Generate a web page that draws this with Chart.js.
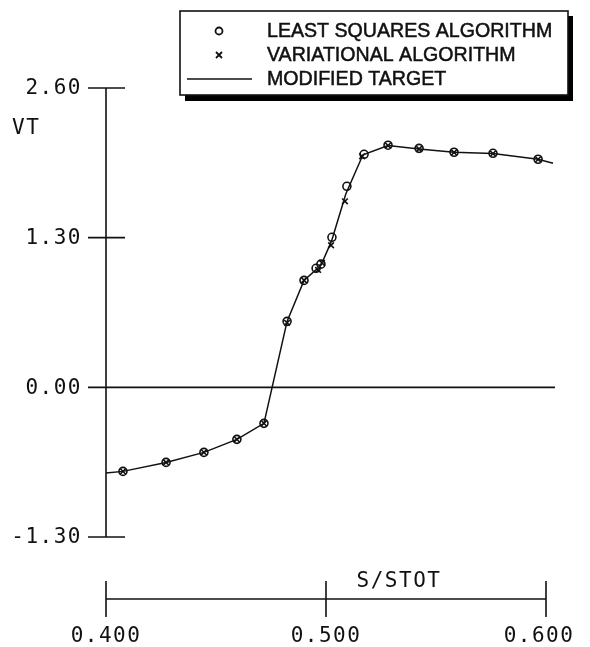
<html>
	<head>
		<script src="https://cdn.jsdelivr.net/npm/chart.js"></script>
		<style>
			body {
				margin: 0;
				background: #fff;
			}
			canvas {
				display: block;
			}
		</style>
	</head>
	<body>
		<canvas id="vtChart" width="590" height="647"></canvas>

		<script>
			// data
			const sLsq = [0.4077, 0.4273, 0.4445, 0.4595, 0.4718, 0.4823, 0.4900, 0.4955, 0.4977, 0.5027, 0.5095, 0.5173, 0.5282, 0.5423, 0.5582, 0.5759, 0.5964];
			const vtLsq = [-0.73, -0.652, -0.565, -0.452, -0.313, 0.573, 0.929, 1.034, 1.07, 1.303, 1.746, 2.024, 2.103, 2.076, 2.042, 2.033, 1.981];

			const sVar = [0.4077, 0.4273, 0.4445, 0.4595, 0.4718, 0.4823, 0.4900, 0.4964, 0.4982, 0.5023, 0.5086, 0.5164, 0.5282, 0.5423, 0.5582, 0.5759, 0.5964];
			const vtVar = [-0.73, -0.652, -0.565, -0.452, -0.313, 0.56, 0.93, 1.02, 1.08, 1.234, 1.616, 2.007, 2.10, 2.07, 2.04, 2.03, 1.98];

			const sTarget = [0.4, 0.4077, 0.4273, 0.4445, 0.4595, 0.4718, 0.4823, 0.4900, 0.4977, 0.5025, 0.5090, 0.5168, 0.5282, 0.5423, 0.5582, 0.5759, 0.5964, 0.6032];
			const vtTarget = [-0.745, -0.73, -0.652, -0.565, -0.452, -0.313, 0.573, 0.929, 1.06, 1.27, 1.68, 2.02, 2.10, 2.07, 2.042, 2.03, 1.981, 1.946];

			const yTicks = [2.6, 1.3, 0, -1.3];
			const yTickLabels = ['2.60', '1.30', '0.00', '-1.30'];
			const xTicks = [0.4, 0.5, 0.6];
			const xTickLabels = ['0.400', '0.500', '0.600'];
			const legendLabels = ['LEAST SQUARES ALGORITHM', 'VARIATIONAL ALGORITHM', 'MODIFIED TARGET'];

			const toPoints = (xs, ys) => xs.map((x, i) => ({ x: x, y: ys[i] }));

			const monoFont = '21px "DejaVu Sans Mono"';
			const ink = '#111';

			// plotter style axes, drawn with the chart's own scales
			const axesPlugin = {
				id: 'plotterAxes',
				beforeDatasetsDraw(chart) {
					const ctx = chart.ctx;
					const xs = chart.scales.x;
					const ys = chart.scales.y;
					const x0 = xs.getPixelForValue(0.4);
					ctx.save();
					ctx.strokeStyle = ink;
					ctx.lineWidth = 1.6;
					ctx.fillStyle = ink;
					ctx.font = monoFont;
					ctx.letterSpacing = '1.5px';

					// y axis
					ctx.beginPath();
					ctx.moveTo(x0, ys.getPixelForValue(2.6));
					ctx.lineTo(x0, ys.getPixelForValue(-1.3));
					ctx.stroke();

					ctx.textAlign = 'right';
					ctx.textBaseline = 'middle';
					yTicks.forEach((v, i) => {
						const py = ys.getPixelForValue(v);
						ctx.beginPath();
						ctx.moveTo(x0 - 18, py);
						ctx.lineTo(v === 0 ? xs.getPixelForValue(0.6041) : x0 + 19, py);
						ctx.stroke();
						ctx.fillText(yTickLabels[i], 82, py + 1);
					});

					ctx.textAlign = 'left';
					ctx.fillText('VT', 12, 129);

					// x axis, set apart below the plot
					const axY = 599;
					ctx.beginPath();
					ctx.moveTo(x0, axY);
					ctx.lineTo(xs.getPixelForValue(0.6), axY);
					ctx.stroke();
					ctx.textAlign = 'center';
					xTicks.forEach((v, i) => {
						const px = xs.getPixelForValue(v);
						ctx.beginPath();
						ctx.moveTo(px, axY - 18);
						ctx.lineTo(px, axY + 18);
						ctx.stroke();
						ctx.fillText(xTickLabels[i], i === 2 ? px - 7 : px, 637);
					});
					ctx.fillText('S/STOT', 399, 582);
					ctx.restore();
				},
				afterDraw(chart) {
					const ctx = chart.ctx;
					ctx.save();
					// legend box with drop shadow
					ctx.fillStyle = '#000';
					ctx.fillRect(185, 16, 388, 85);
					ctx.fillStyle = '#fff';
					ctx.fillRect(180, 11, 388, 84);
					ctx.strokeStyle = ink;
					ctx.lineWidth = 1.6;
					ctx.strokeRect(180, 11, 388, 84);

					ctx.lineWidth = 1.8;
					ctx.beginPath();
					ctx.arc(219, 31, 3.5, 0, Math.PI * 2);
					ctx.stroke();
					ctx.beginPath();
					ctx.moveTo(216, 52); ctx.lineTo(222, 58);
					ctx.moveTo(222, 52); ctx.lineTo(216, 58);
					ctx.stroke();
					ctx.lineWidth = 1.5;
					ctx.beginPath();
					ctx.moveTo(187, 79);
					ctx.lineTo(252, 79);
					ctx.stroke();

					ctx.fillStyle = ink;
					ctx.font = '19.6px "Liberation Sans"';
					ctx.textAlign = 'left';
					ctx.textBaseline = 'middle';
					ctx.lineWidth = 0.5;
					const rows = [31, 55, 79];
					legendLabels.forEach((t, i) => {
						ctx.fillText(t, 267, rows[i] + 1);
						ctx.strokeText(t, 267, rows[i] + 1);
					});
					ctx.restore();
				}
			};

			const chart = new Chart(document.getElementById('vtChart'), {
				type: 'line',
				data: {
					datasets: [{
						label: legendLabels[2],
						data: toPoints(sTarget, vtTarget),
						borderColor: ink,
						borderWidth: 1.5,
						pointRadius: 0,
						tension: 0,
						clip: false
					}, {
						label: legendLabels[0],
						data: toPoints(sLsq, vtLsq),
						showLine: false,
						pointStyle: 'circle',
						pointRadius: 4,
						pointBorderWidth: 1.6,
						pointBorderColor: ink,
						pointBackgroundColor: 'rgba(0,0,0,0)',
						clip: false
					}, {
						label: legendLabels[1],
						data: toPoints(sVar, vtVar),
						showLine: false,
						pointStyle: 'crossRot',
						pointRadius: 4,
						pointBorderWidth: 1.6,
						pointBorderColor: ink,
						clip: false
					}]
				},
				options: {
					responsive: false,
					animation: false,
					devicePixelRatio: 1,
					layout: {
						padding: { left: 106, right: 44, top: 88, bottom: 110 }
					},
					plugins: {
						legend: { display: false },
						tooltip: { enabled: false }
					},
					scales: {
						x: { type: 'linear', min: 0.4, max: 0.6, display: false },
						y: { type: 'linear', min: -1.3, max: 2.6, display: false }
					}
				},
				plugins: [axesPlugin]
			});
		</script>
	</body>
</html>
